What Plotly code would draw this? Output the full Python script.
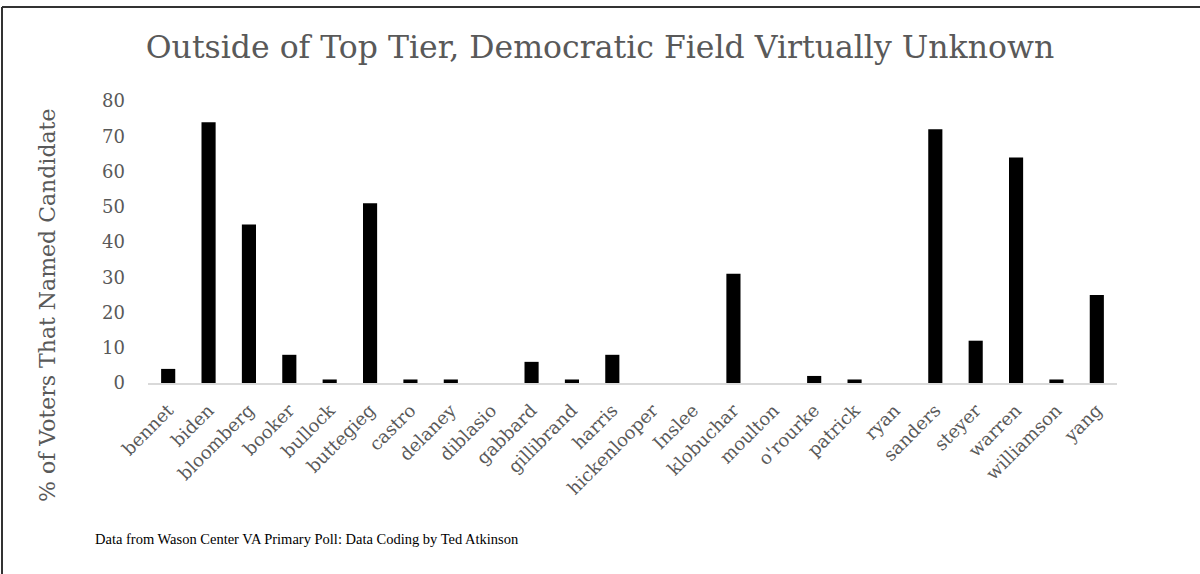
import plotly.graph_objects as go

candidates = ["bennet", "biden", "bloomberg", "booker", "bullock", "buttegieg", "castro",
              "delaney", "diblasio", "gabbard", "gillibrand", "harris", "hickenlooper",
              "Inslee", "klobuchar", "moulton", "o'rourke", "patrick", "ryan", "sanders",
              "steyer", "warren", "williamson", "yang"]
percent_named = [4, 74, 45, 8, 1, 51, 1, 1, 0, 6, 1, 8, 0, 0, 31, 0, 2, 1, 0, 72, 12, 64, 1, 25]
y_ticks = [0, 10, 20, 30, 40, 50, 60, 70, 80]

title_text = "Outside of Top Tier, Democratic Field Virtually Unknown"
y_title = "% of Voters That Named Candidate"
footer = "Data from Wason Center VA Primary Poll: Data Coding by Ted Atkinson"

GRAY = "#595959"
SERIF = "DejaVu Serif"

fig = go.Figure(go.Bar(x=candidates, y=percent_named, marker_color="black",
                       marker_line_width=0))

fig.update_layout(
    width=1200, height=574,
    margin=dict(l=148, r=83, t=101, b=191),
    paper_bgcolor="white", plot_bgcolor="white",
    bargap=0.65, showlegend=False,
    title=dict(text=title_text, x=0.5, xanchor="center", y=1 - 47 / 574, yanchor="middle",
               font=dict(family=SERIF, size=31.5, color=GRAY)),
    xaxis=dict(showgrid=False, showline=True, linecolor="#d9d9d9", linewidth=1.5,
               tickangle=-45, tickfont=dict(family=SERIF, size=18, color=GRAY),
               ticks="", ticklabelstandoff=8, zeroline=False),
    yaxis=dict(range=[0, 80], tickvals=y_ticks, showgrid=False, showline=False,
               zeroline=False, tickfont=dict(family=SERIF, size=18, color=GRAY),
               ticklabelstandoff=22),
    annotations=[
        dict(text=y_title, textangle=-90, xref="paper", yref="paper",
             x=-(148 - 47) / 969, y=(383 - 306) / 282, xanchor="center", yanchor="middle",
             showarrow=False, font=dict(family=SERIF, size=22, color=GRAY)),
        dict(text=footer, xref="paper", yref="paper",
             x=-(148 - 93) / 969, y=-(539 - 383) / 282, xanchor="left", yanchor="middle",
             showarrow=False, font=dict(family="Liberation Serif", size=14.5, color="black")),
    ],
    shapes=[
        dict(type="line", xref="paper", yref="paper", x0=-(148 - 2) / 969, x1=(1200 - 148) / 969,
             y0=(383 - 7) / 282, y1=(383 - 7) / 282, line=dict(color="#333333", width=2)),
        dict(type="line", xref="paper", yref="paper", x0=-(148 - 2) / 969, x1=-(148 - 2) / 969,
             y0=(383 - 7) / 282, y1=-(574 - 383) / 282, line=dict(color="#333333", width=2)),
    ],
)

fig.write_html("out.html", config={"displayModeBar": False},
               post_script="document.body.style.margin='0';document.body.style.overflow='hidden';")
